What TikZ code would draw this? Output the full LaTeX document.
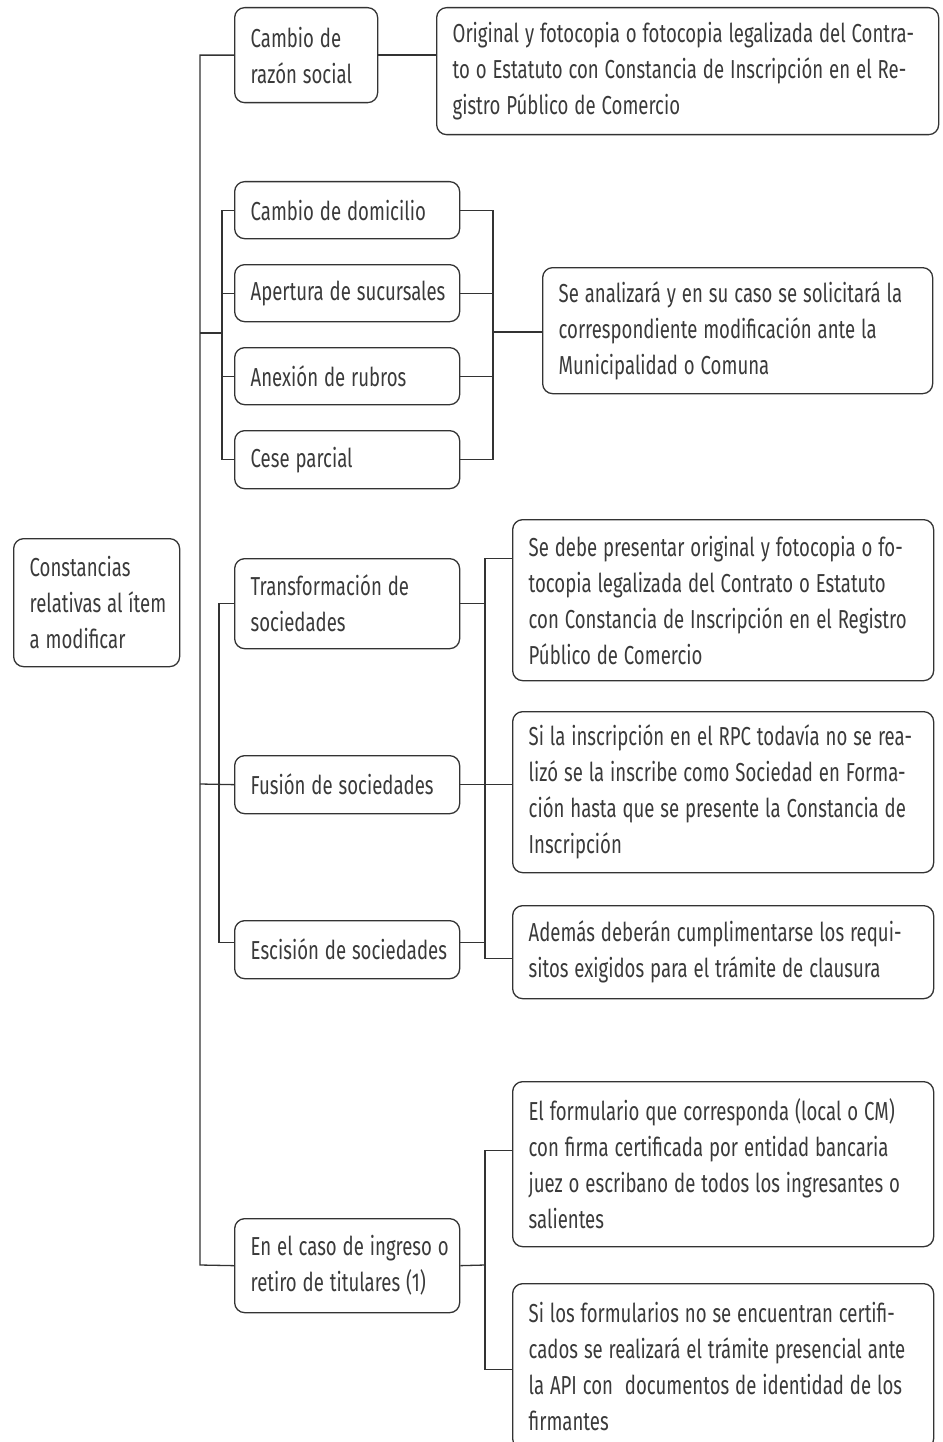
\documentclass[tikz,border=0pt]{standalone}
\usepackage{fontspec}
\setmainfont{Fira Sans}[FakeStretch=0.715]
\usetikzlibrary{calc}
\definecolor{lc}{HTML}{333333}
\definecolor{tc}{HTML}{3A3A3A}
\newcommand\Lx[1]{\mbox{\spaceskip=5.9pt\relax\xspaceskip=5.9pt\relax #1}}
\tikzset{
  box/.style={draw=lc, line width=1.3pt, rounded corners=10pt, inner xsep=16pt, inner ysep=0pt,
    anchor=north west, text=tc, align=left, font=\fontsize{26}{36}\selectfont},
  conn/.style={draw=lc, line width=1.3pt}
}
\begin{document}
\begin{tikzpicture}[x=1pt,y=-1pt]
\useasboundingbox (0,0) rectangle (942,1442);
% boxes
\node[box, minimum width=166pt, minimum height=128pt, text width=134pt] (root) at (13,538)
  {\Lx{Constancias}\\\Lx{relativas al ítem}\\\Lx{a modificar}};
\node[box, minimum width=143pt, minimum height=95pt, text width=111pt] (razon) at (234,7)
  {\Lx{Cambio de}\\\Lx{razón social}};
\node[box, minimum width=502pt, minimum height=127pt, text width=470pt] (orig) at (436,7)
  {\Lx{Original y fotocopia o fotocopia legalizada del Contra-}\\\Lx{to o Estatuto con Constancia de Inscripción en el Re-}\\\Lx{gistro Público de Comercio}};
\node[box, minimum width=225pt, minimum height=57pt, text width=193pt] (dom) at (234,181)
  {\Lx{Cambio de domicilio}};
\node[box, minimum width=225pt, minimum height=57pt, text width=193pt] (ape) at (234,264)
  {\Lx{Apertura de sucursales}};
\node[box, minimum width=225pt, minimum height=57pt, text width=193pt] (anex) at (234,347)
  {\Lx{Anexión de rubros}};
\node[box, minimum width=225pt, minimum height=58pt, text width=193pt] (cese) at (234,430)
  {\Lx{Cese parcial}};
\node[box, minimum width=390pt, minimum height=126pt, text width=358pt] (anal) at (542,267)
  {\Lx{Se analizará y en su caso se solicitará la}\\\Lx{correspondiente modificación ante la}\\\Lx{Municipalidad o Comuna}};
\node[box, minimum width=225pt, minimum height=90pt, text width=193pt] (trans) at (234,558)
  {\Lx{Transformación de}\\\Lx{sociedades}};
\node[box, minimum width=225pt, minimum height=58pt, text width=193pt] (fus) at (234,755)
  {\Lx{Fusión de sociedades}};
\node[box, minimum width=225pt, minimum height=58pt, text width=193pt] (esc) at (234,920)
  {\Lx{Escisión de sociedades}};
\node[box, minimum width=421pt, minimum height=161pt, text width=389pt] (sedebe) at (512,519)
  {\Lx{Se debe presentar original y fotocopia o fo-}\\\Lx{tocopia legalizada del Contrato o Estatuto}\\\Lx{con Constancia de Inscripción en el Registro}\\\Lx{Público de Comercio}};
\node[box, minimum width=421pt, minimum height=161pt, text width=389pt] (sila) at (512,711)
  {\Lx{Si la inscripción en el RPC todavía no se rea-}\\\Lx{lizó se la inscribe como Sociedad en Forma-}\\\Lx{ción hasta que se presente la Constancia de}\\\Lx{Inscripción}};
\node[box, minimum width=421pt, minimum height=93pt, text width=389pt] (ademas) at (512,905)
  {\Lx{Además deberán cumplimentarse los requi-}\\\Lx{sitos exigidos para el trámite de clausura}};
\node[box, minimum width=225pt, minimum height=94pt, text width=193pt] (caso) at (234,1218)
  {\Lx{En el caso de ingreso o}\\\Lx{retiro de titulares (1)}};
\node[box, minimum width=421pt, minimum height=165pt, text width=389pt] (elform) at (512,1081)
  {\Lx{El formulario que corresponda (local o CM)}\\\Lx{con firma certificada por entidad bancaria}\\\Lx{juez o escribano de todos los ingresantes o}\\\Lx{salientes}};
\node[box, minimum width=421pt, minimum height=165pt, text width=389pt] (silos) at (512,1283)
  {\Lx{Si los formularios no se encuentran certifi-}\\\Lx{cados se realizará el trámite presencial ante}\\\Lx{la API con\ \ documentos de identidad de los}\\\Lx{firmantes}};
% junction coordinates
\coordinate (tb) at (200,1265);
\coordinate (t2) at (200,333);
\coordinate (k2) at (222,333);
\coordinate (j2) at (493,332);
\coordinate (t3) at (200,784);
\coordinate (k3) at (219,784);
\coordinate (j3) at (485,784);
\coordinate (j4) at (485,1265);
% main trunk
\draw[conn] (razon.west) -| (tb) -- (caso.west);
\draw[conn] (razon.east) -- (razon.east -| orig.west);
% group 2
\draw[conn] (t2) -- (k2);
\draw[conn] (dom.west) -| (k2);
\draw[conn] (ape.west) -| (k2);
\draw[conn] (anex.west) -| (k2);
\draw[conn] (cese.west) -| (k2);
\draw[conn] (dom.east) -| (j2);
\draw[conn] (ape.east) -| (j2);
\draw[conn] (anex.east) -| (j2);
\draw[conn] (cese.east) -| (j2);
\draw[conn] (j2) -- (j2 -| anal.west);
% group 3
\draw[conn] (t3) -- (fus.west);
\draw[conn] (trans.west) -| (k3);
\draw[conn] ([yshift=7pt]esc.west) -| (k3);
\draw[conn] (trans.east) -| (j3);
\draw[conn] ([yshift=7pt]esc.east) -| (j3);
\draw[conn] (fus.east) -- (fus.east -| sila.west);
\draw[conn] ([yshift=41.5pt]sedebe.west) -| (j3);
\draw[conn] ([yshift=-6.5pt]ademas.west) -| (j3);
% group 4
\draw[conn] (caso.east) -- (j4);
\draw[conn] ([yshift=13.5pt]elform.west) -| (j4);
\draw[conn] ([yshift=-3.5pt]silos.west) -| (j4);
\end{tikzpicture}
\end{document}
